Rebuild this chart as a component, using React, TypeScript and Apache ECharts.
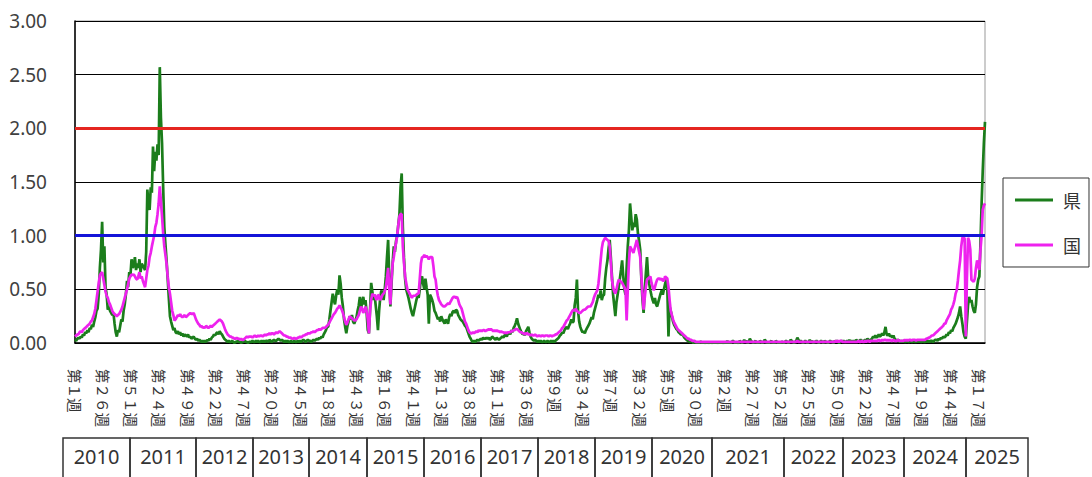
import React, { useEffect, useRef } from "react";
import * as echarts from "echarts";

// ---- categories (weeks per year) ----
const years = [2010, 2011, 2012, 2013, 2014, 2015, 2016, 2017, 2018, 2019, 2020, 2021, 2022, 2023, 2024, 2025];
const weeksPerYear = [52, 52, 52, 52, 52, 53, 52, 52, 52, 52, 53, 52, 53, 53, 52, 22];
const yTickFormat = (v: number) => v.toFixed(2);

// ---- 県 (prefecture) ----
const ken2010 = [0.03,0.02,0.04,0.05,0.04,0.06,0.05,0.08,0.07,0.10,
  0.09,0.12,0.10,0.14,0.13,0.17,0.15,0.20,0.24,0.30,
  0.32,0.45,0.70,0.87,1.13,0.75,0.90,0.52,0.45,0.31,
  0.34,0.30,0.28,0.26,0.28,0.18,0.10,0.06,0.12,0.10,
  0.16,0.22,0.20,0.30,0.36,0.45,0.58,0.52,0.66,0.62,0.78,0.70];
const ken2011 = [0.72,0.80,0.68,0.74,0.70,0.78,0.66,0.74,0.72,0.70,
  0.68,0.85,1.43,1.30,1.24,1.45,1.40,1.83,1.60,1.78,
  1.70,1.85,1.75,2.57,2.10,1.86,1.45,1.08,0.92,0.77,
  0.60,0.42,0.25,0.20,0.16,0.12,0.14,0.10,0.09,0.11,
  0.08,0.10,0.07,0.09,0.06,0.08,0.07,0.06,0.08,0.05,0.06,0.04];
const ken2012 = [0.05,0.06,0.04,0.03,0.04,0.02,0.03,0.02,0.01,0.02,
  0.01,0.02,0.01,0.03,0.02,0.04,0.03,0.05,0.06,0.08,
  0.07,0.09,0.10,0.08,0.11,0.09,0.08,0.06,0.04,0.03,
  0.02,0.01,0.02,0.01,0.01,0.02,0.01,0.00,0.01,0.01,0.02,0.01,
  0.01,0.00,0.01,0.01,0.02,0.01,0.01,0.00,0.01,0.01];
const ken2013 = [0.01,0.02,0.01,0.01,0.02,0.01,0.02,0.01,0.01,0.02,
  0.01,0.02,0.01,0.02,0.02,0.01,0.03,0.02,0.01,0.02,
  0.03,0.02,0.02,0.03,0.04,0.03,0.02,0.03,0.02,0.01,
  0.02,0.01,0.02,0.01,0.01,0.02,0.01,0.01,0.02,0.01,0.01,0.02,
  0.01,0.02,0.01,0.02,0.03,0.02,0.01,0.02,0.03,0.02];
const ken2014 = [0.02,0.01,0.02,0.03,0.02,0.03,0.04,0.03,0.05,0.04,
  0.06,0.05,0.08,0.10,0.12,0.15,0.15,0.22,0.30,0.38,
  0.46,0.40,0.36,0.44,0.50,0.45,0.63,0.55,0.42,0.34,
  0.22,0.15,0.09,0.16,0.20,0.25,0.22,0.26,0.20,0.18,
  0.21,0.24,0.30,0.35,0.43,0.32,0.38,0.43,0.36,0.40,0.28,0.12];
const ken2015 = [0.09,0.30,0.56,0.48,0.40,0.45,0.35,0.25,0.12,0.30,
  0.42,0.49,0.45,0.40,0.50,0.62,0.80,0.96,0.60,0.34,
  0.55,0.75,0.90,0.85,0.95,1.00,1.10,1.20,1.45,1.58,
  1.08,0.80,0.60,0.50,0.46,0.42,0.37,0.32,0.28,0.25,
  0.30,0.35,0.40,0.44,0.42,0.50,0.60,0.62,0.55,0.50,0.60,0.52,0.45];
const ken2016 = [0.18,0.45,0.43,0.40,0.36,0.30,0.28,0.25,0.22,0.24,
  0.20,0.25,0.22,0.20,0.18,0.22,0.20,0.18,0.24,0.27,
  0.25,0.29,0.30,0.28,0.31,0.30,0.26,0.24,0.22,0.21,
  0.20,0.18,0.16,0.15,0.12,0.09,0.06,0.04,0.02,0.01,
  0.02,0.01,0.02,0.03,0.02,0.03,0.04,0.03,0.05,0.04,0.04,0.05];
const ken2017 = [0.04,0.05,0.03,0.04,0.06,0.05,0.04,0.03,0.05,0.04,
  0.03,0.04,0.05,0.06,0.05,0.07,0.08,0.06,0.09,0.10,
  0.08,0.12,0.10,0.14,0.16,0.19,0.23,0.18,0.15,0.12,
  0.10,0.08,0.09,0.07,0.11,0.13,0.15,0.10,0.06,0.04,
  0.03,0.02,0.03,0.02,0.01,0.02,0.01,0.02,0.01,0.01,0.02,0.01];
const ken2018 = [0.01,0.02,0.01,0.01,0.02,0.01,0.02,0.01,0.02,0.03,
  0.04,0.05,0.07,0.08,0.10,0.09,0.12,0.14,0.15,0.13,
  0.16,0.18,0.22,0.19,0.20,0.35,0.42,0.59,0.30,0.20,
  0.15,0.12,0.10,0.11,0.09,0.12,0.14,0.16,0.18,0.21,
  0.24,0.22,0.28,0.32,0.36,0.40,0.45,0.42,0.49,0.40,0.44,0.45];
const ken2019 = [0.60,0.70,0.77,0.88,0.96,0.80,0.62,0.45,0.35,0.25,
  0.38,0.45,0.52,0.60,0.68,0.77,0.62,0.50,0.45,0.70,
  0.90,1.05,1.30,1.18,1.05,1.12,1.08,1.20,1.15,1.02,
  0.95,0.87,0.60,0.40,0.28,0.50,0.65,0.80,0.62,0.55,
  0.49,0.44,0.40,0.37,0.42,0.36,0.34,0.38,0.42,0.46,0.49,0.45];
const ken2020 = [0.50,0.55,0.59,0.50,0.06,0.34,0.30,0.25,0.20,0.17,
  0.15,0.13,0.12,0.10,0.09,0.08,0.08,0.07,0.05,0.04,
  0.03,0.02,0.02,0.01,0.01,0.01,0.00,0.01,0.01,0.00,
  0.01,0.00,0.01,0.01,0.00,0.01,0.00,0.00,0.01,0.00,
  0.00,0.01,0.00,0.00,0.01,0.00,0.01,0.00,0.00,0.01,0.00,0.01,0.00];
const ken2021 = [0.00,0.01,0.00,0.02,0.00,0.01,0.00,0.01,0.02,0.01,
  0.00,0.01,0.00,0.00,0.02,0.01,0.00,0.01,0.03,0.01,
  0.02,0.00,0.01,0.04,0.02,0.01,0.00,0.01,0.02,0.00,
  0.01,0.00,0.02,0.01,0.00,0.01,0.03,0.02,0.00,0.01,0.00,0.01,
  0.02,0.00,0.01,0.00,0.02,0.01,0.00,0.01,0.00,0.01];
const ken2022 = [0.01,0.00,0.01,0.02,0.01,0.00,0.01,0.03,0.02,0.01,
  0.00,0.01,0.02,0.05,0.03,0.01,0.02,0.01,0.00,0.01,
  0.02,0.01,0.00,0.01,0.03,0.01,0.02,0.00,0.01,0.01,
  0.02,0.01,0.00,0.01,0.02,0.01,0.00,0.02,0.01,0.01,
  0.00,0.01,0.02,0.01,0.01,0.00,0.02,0.01,0.02,0.01,0.00,0.01,0.02];
const ken2023 = [0.01,0.02,0.01,0.01,0.02,0.01,0.03,0.01,0.02,0.01,
  0.02,0.01,0.03,0.02,0.01,0.02,0.03,0.02,0.01,0.02,
  0.03,0.02,0.04,0.03,0.02,0.03,0.04,0.06,0.05,0.07,
  0.05,0.06,0.08,0.06,0.07,0.09,0.07,0.10,0.15,0.08,
  0.07,0.09,0.06,0.07,0.05,0.07,0.04,0.03,0.02,0.03,0.02,0.01,0.02];
const ken2024 = [0.01,0.02,0.01,0.01,0.02,0.01,0.01,0.02,0.01,0.01,
  0.02,0.01,0.01,0.02,0.01,0.02,0.01,0.01,0.02,0.01,
  0.01,0.02,0.01,0.02,0.01,0.02,0.02,0.01,0.02,0.03,
  0.03,0.02,0.04,0.03,0.05,0.04,0.06,0.05,0.06,0.08,
  0.07,0.10,0.09,0.12,0.11,0.14,0.16,0.18,0.21,0.24,0.28,0.34];
const ken2025 = [0.25,0.18,0.10,0.06,0.04,0.20,0.35,0.43,0.38,0.40,
  0.34,0.30,0.28,0.36,0.52,0.59,0.62,0.93,1.30,1.60,1.86,2.06];

// ---- 国 (national) ----
const kuni2010 = [0.06,0.07,0.08,0.08,0.10,0.11,0.10,0.12,0.13,0.14,
  0.15,0.16,0.17,0.18,0.20,0.21,0.24,0.27,0.32,0.40,
  0.48,0.56,0.63,0.65,0.66,0.60,0.54,0.48,0.44,0.42,
  0.38,0.36,0.33,0.30,0.28,0.27,0.26,0.25,0.26,0.27,
  0.29,0.31,0.34,0.38,0.42,0.46,0.50,0.55,0.60,0.62,0.64,0.63];
const kuni2011 = [0.64,0.62,0.60,0.59,0.62,0.66,0.60,0.62,0.58,0.55,
  0.52,0.60,0.68,0.72,0.80,0.84,0.90,0.95,1.00,1.08,
  1.12,1.20,1.30,1.46,1.32,1.18,1.02,0.90,0.82,0.74,
  0.62,0.52,0.46,0.38,0.30,0.26,0.21,0.22,0.24,0.26,
  0.25,0.27,0.25,0.24,0.25,0.26,0.24,0.25,0.26,0.27,0.28,0.27];
const kuni2012 = [0.27,0.28,0.25,0.22,0.20,0.18,0.17,0.15,0.16,0.14,
  0.15,0.14,0.16,0.15,0.14,0.15,0.16,0.15,0.16,0.17,
  0.18,0.19,0.20,0.21,0.22,0.21,0.20,0.18,0.15,0.12,
  0.10,0.08,0.07,0.06,0.06,0.05,0.05,0.04,0.04,0.05,0.04,0.04,
  0.03,0.04,0.03,0.03,0.04,0.05,0.06,0.05,0.06,0.06];
const kuni2013 = [0.06,0.05,0.06,0.07,0.06,0.06,0.07,0.06,0.07,0.07,
  0.06,0.07,0.08,0.07,0.08,0.08,0.09,0.08,0.09,0.09,
  0.08,0.09,0.10,0.09,0.10,0.11,0.10,0.09,0.08,0.07,
  0.07,0.06,0.06,0.05,0.05,0.05,0.04,0.04,0.05,0.04,0.04,0.05,
  0.05,0.06,0.05,0.06,0.07,0.07,0.08,0.08,0.09,0.09];
const kuni2014 = [0.09,0.10,0.10,0.11,0.10,0.11,0.12,0.12,0.13,0.12,
  0.13,0.14,0.14,0.14,0.15,0.16,0.17,0.19,0.21,0.23,
  0.25,0.27,0.28,0.30,0.32,0.33,0.35,0.33,0.31,0.28,
  0.24,0.20,0.17,0.19,0.22,0.25,0.24,0.23,0.22,0.21,
  0.21,0.22,0.24,0.26,0.30,0.34,0.32,0.28,0.30,0.34,0.30,0.22];
const kuni2015 = [0.09,0.30,0.40,0.46,0.44,0.45,0.42,0.40,0.45,0.44,
  0.40,0.42,0.45,0.46,0.48,0.52,0.60,0.70,0.50,0.36,
  0.60,0.74,0.80,0.88,0.93,1.00,1.10,1.18,1.20,1.20,
  0.90,0.75,0.62,0.56,0.50,0.48,0.46,0.44,0.42,0.44,
  0.44,0.44,0.45,0.46,0.46,0.60,0.74,0.80,0.80,0.82,0.80,0.81,0.80];
const kuni2016 = [0.78,0.80,0.80,0.80,0.72,0.62,0.59,0.50,0.44,0.40,
  0.38,0.36,0.35,0.34,0.34,0.35,0.36,0.37,0.36,0.38,
  0.40,0.42,0.43,0.43,0.42,0.43,0.40,0.36,0.34,0.32,
  0.28,0.24,0.20,0.18,0.15,0.12,0.10,0.09,0.09,0.10,
  0.09,0.10,0.11,0.10,0.12,0.11,0.12,0.11,0.12,0.12,0.11,0.12];
const kuni2017 = [0.12,0.13,0.12,0.13,0.12,0.11,0.12,0.11,0.12,0.11,
  0.11,0.10,0.11,0.10,0.10,0.09,0.10,0.09,0.10,0.10,
  0.10,0.11,0.11,0.12,0.12,0.13,0.13,0.12,0.11,0.10,
  0.10,0.09,0.09,0.08,0.09,0.09,0.08,0.08,0.07,0.08,
  0.07,0.07,0.08,0.07,0.06,0.07,0.07,0.06,0.07,0.07,0.06,0.07];
const kuni2018 = [0.07,0.07,0.06,0.07,0.07,0.06,0.07,0.07,0.08,0.08,
  0.09,0.10,0.11,0.12,0.14,0.15,0.17,0.19,0.21,0.22,
  0.24,0.26,0.28,0.30,0.31,0.30,0.32,0.30,0.29,0.28,
  0.28,0.29,0.30,0.31,0.31,0.32,0.33,0.34,0.34,0.34,
  0.36,0.38,0.42,0.45,0.47,0.49,0.55,0.65,0.77,0.88,0.94,0.96];
const kuni2019 = [0.98,0.97,0.96,0.95,0.90,0.75,0.59,0.52,0.48,0.46,
  0.50,0.55,0.59,0.58,0.57,0.56,0.54,0.52,0.49,0.21,
  0.50,0.75,0.90,0.88,0.86,0.84,0.88,0.92,0.96,0.90,
  0.85,0.80,0.62,0.45,0.31,0.42,0.52,0.59,0.60,0.61,
  0.62,0.56,0.52,0.49,0.52,0.56,0.59,0.60,0.60,0.59,0.60,0.58];
const kuni2020 = [0.58,0.62,0.61,0.60,0.52,0.40,0.30,0.26,0.22,0.19,
  0.17,0.15,0.13,0.12,0.11,0.10,0.09,0.08,0.07,0.06,
  0.05,0.04,0.04,0.03,0.03,0.02,0.02,0.02,0.01,0.01,
  0.01,0.01,0.01,0.01,0.01,0.01,0.01,0.01,0.01,0.01,
  0.01,0.01,0.01,0.01,0.01,0.01,0.01,0.01,0.01,0.01,0.01,0.01,0.01];
const kuni2021 = [0.01,0.01,0.01,0.01,0.01,0.01,0.01,0.01,0.01,0.01,
  0.01,0.01,0.01,0.01,0.01,0.01,0.01,0.01,0.01,0.01,
  0.01,0.01,0.01,0.01,0.01,0.01,0.01,0.01,0.01,0.01,
  0.01,0.01,0.01,0.01,0.01,0.01,0.01,0.01,0.01,0.01,0.01,0.01,
  0.01,0.01,0.01,0.01,0.01,0.01,0.01,0.01,0.01,0.01];
const kuni2022 = [0.01,0.01,0.01,0.01,0.01,0.01,0.01,0.01,0.01,0.01,
  0.01,0.01,0.01,0.02,0.01,0.01,0.01,0.01,0.01,0.01,
  0.01,0.01,0.01,0.01,0.01,0.01,0.01,0.01,0.01,0.01,
  0.01,0.01,0.01,0.01,0.01,0.01,0.01,0.01,0.01,0.01,
  0.01,0.01,0.01,0.01,0.01,0.01,0.01,0.02,0.01,0.02,0.01,0.02,0.02];
const kuni2023 = [0.01,0.01,0.01,0.01,0.01,0.01,0.01,0.01,0.01,0.01,
  0.01,0.01,0.01,0.01,0.02,0.01,0.01,0.02,0.01,0.01,
  0.02,0.01,0.02,0.02,0.01,0.02,0.02,0.02,0.02,0.02,
  0.02,0.02,0.03,0.02,0.02,0.03,0.02,0.03,0.03,0.02,
  0.03,0.02,0.03,0.02,0.02,0.03,0.02,0.02,0.02,0.03,0.02,0.02,0.02];
const kuni2024 = [0.02,0.02,0.03,0.02,0.03,0.02,0.03,0.03,0.02,0.03,
  0.03,0.03,0.02,0.03,0.03,0.03,0.03,0.03,0.03,0.03,
  0.03,0.04,0.04,0.05,0.05,0.06,0.07,0.07,0.08,0.09,
  0.10,0.11,0.12,0.13,0.14,0.15,0.16,0.18,0.18,0.21,
  0.23,0.25,0.27,0.31,0.33,0.36,0.40,0.46,0.49,0.58,0.68,0.77];
const kuni2025 = [0.90,0.98,0.99,0.97,0.06,0.60,0.98,0.95,0.87,0.59,
  0.58,0.57,0.60,0.70,0.77,0.72,0.68,0.87,1.00,1.24,1.28,1.30];

const ken = [ken2010, ken2011, ken2012, ken2013, ken2014, ken2015, ken2016, ken2017, ken2018, ken2019,
  ken2020, ken2021, ken2022, ken2023, ken2024, ken2025].flat();
const kuni = [kuni2010, kuni2011, kuni2012, kuni2013, kuni2014, kuni2015, kuni2016, kuni2017, kuni2018, kuni2019,
  kuni2020, kuni2021, kuni2022, kuni2023, kuni2024, kuni2025].flat();

const categories: string[] = [];
years.forEach((y, k) => {
  for (let w = 1; w <= weeksPerYear[k]; w++) categories.push(`${y}-${w}`);
});

const alarmLevel = 2;
const endLevel = 1;

const toFullWidth = (s: string) => s.replace(/[0-9]/g, (d) => String.fromCharCode(0xff10 + Number(d)));

export default function App() {
  const ref = useRef<HTMLDivElement>(null);
  useEffect(() => {
    if (!ref.current) return;
    const chart = echarts.init(ref.current, undefined, { renderer: "svg" });
    const edges = [63, 130, 196, 253, 309, 367, 424, 481, 538, 595, 652, 712, 784, 843, 904, 966, 1028];
    const tableTop = 438;
    const cellGraphics: any[] = [];
    years.forEach((y, k) => {
      const x0 = edges[k];
      const x1 = edges[k + 1];
      cellGraphics.push({
        type: "rect",
        shape: { x: x0, y: tableTop, width: x1 - x0, height: 60 },
        style: { fill: "none", stroke: "#333", lineWidth: 1.5 },
        silent: true,
      });
      cellGraphics.push({
        type: "text",
        x: (x0 + x1) / 2,
        y: 456,
        style: {
          text: String(y),
          fontSize: 20,
          fontFamily: "Noto Sans",
          fill: "#333",
          align: "center",
          verticalAlign: "middle",
          textAlign: "center",
          textVerticalAlign: "middle",
        },
        silent: true,
      });
    });
    chart.setOption({
      animation: false,
      backgroundColor: "#ffffff",
      grid: { left: 75, top: 21, width: 910, height: 322, show: true, borderColor: "#999", borderWidth: 1, backgroundColor: "transparent" },
      legend: {
        orient: "vertical",
        left: 1003,
        top: 178,
        padding: [13, 8, 13, 12],
        itemGap: 27,
        itemWidth: 38,
        itemHeight: 3,
        icon: "rect",
        borderColor: "#333",
        borderWidth: 1,
        textStyle: { fontSize: 18, color: "#333", fontFamily: "Noto Sans CJK JP", padding: [0, 0, 0, 5] },
        data: ["県", "国"],
      },
      xAxis: {
        type: "category",
        data: categories,
        boundaryGap: false,
        axisLine: { show: true, lineStyle: { color: "#000", width: 1.5 } },
        axisTick: { show: false },
        splitLine: { show: false },
        axisLabel: {
          interval: 24,
          rotate: -90,
          margin: 26,
          fontSize: 14.5,
          color: "#333",
          fontFamily: "Noto Sans CJK JP",
          formatter: (val: string) => "第" + toFullWidth(val.split("-")[1]) + "週",
        },
      },
      yAxis: {
        type: "value",
        min: 0,
        max: 3,
        interval: 0.5,
        axisLine: { show: true, lineStyle: { color: "#000", width: 1.5 } },
        axisTick: { show: false },
        splitLine: { show: true, lineStyle: { color: "#000", width: 1 } },
        axisLabel: { margin: 28, fontSize: 19, color: "#404040", fontFamily: "Noto Sans", formatter: yTickFormat },
      },
      series: [
        {
          name: "県",
          type: "line",
          data: ken,
          symbol: "none",
          lineStyle: { color: "#1b7d1b", width: 2.7 },
          itemStyle: { color: "#1b7d1b" },
        },
        {
          name: "国",
          type: "line",
          data: kuni,
          symbol: "none",
          lineStyle: { color: "#ee22ee", width: 2.7 },
          itemStyle: { color: "#ee22ee" },
          markLine: {
            silent: true,
            symbol: "none",
            animation: false,
            label: { show: false },
            data: [
              { yAxis: alarmLevel, lineStyle: { color: "#e52620", width: 3, type: "solid" } },
              { yAxis: endLevel, lineStyle: { color: "#1414d8", width: 3, type: "solid" } },
            ],
          },
        },
      ],
      graphic: cellGraphics,
    });
    return () => chart.dispose();
  }, []);
  return (
    <div
      ref={ref}
      style={{ position: "fixed", left: 0, top: 0, width: 1092, height: 477, background: "#fff" }}
    />
  );
}
